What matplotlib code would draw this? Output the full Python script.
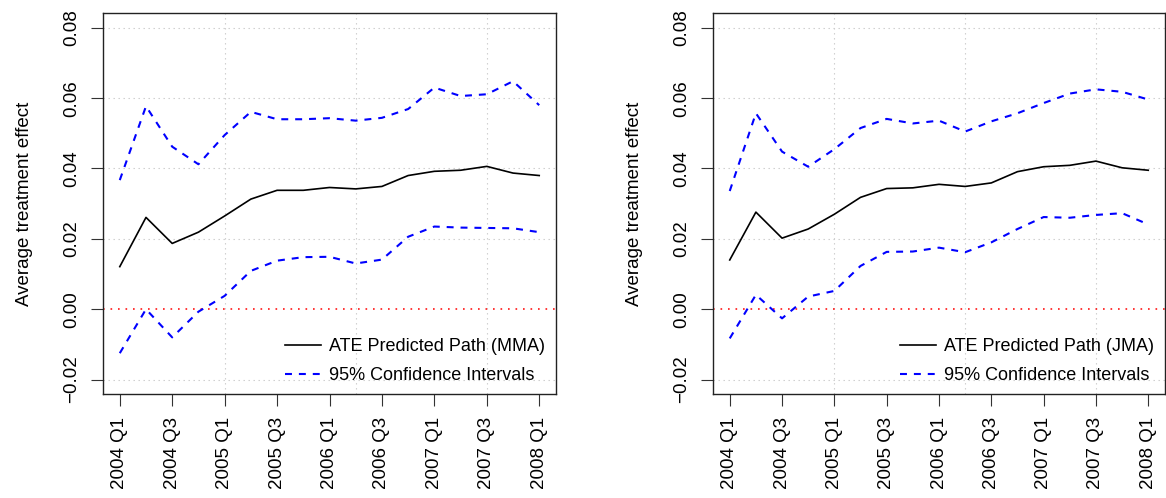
import numpy as np
import matplotlib
matplotlib.use("Agg")
import matplotlib.pyplot as plt

plt.rcParams['font.family'] = ['Liberation Sans', 'DejaVu Sans']
plt.rcParams['lines.scale_dashes'] = False

QUARTERS = ["2004 Q1", "2004 Q2", "2004 Q3", "2004 Q4",
            "2005 Q1", "2005 Q2", "2005 Q3", "2005 Q4",
            "2006 Q1", "2006 Q2", "2006 Q3", "2006 Q4",
            "2007 Q1", "2007 Q2", "2007 Q3", "2007 Q4",
            "2008 Q1"]

mma_ate = [0.0121, 0.0261, 0.0187, 0.0219, 0.0265, 0.0313, 0.0338, 0.0338, 0.0346,
           0.0342, 0.0349, 0.0380, 0.0392, 0.0395, 0.0406, 0.0387, 0.0380]
mma_upper = [0.0367, 0.0577, 0.0462, 0.0412, 0.0495, 0.0561, 0.0540, 0.0540, 0.0543,
             0.0536, 0.0544, 0.0569, 0.0630, 0.0606, 0.0611, 0.0648, 0.0580]
mma_lower = [-0.0125, 0.0000, -0.0080, -0.0007, 0.0038, 0.0109, 0.0138, 0.0148, 0.0149,
             0.0130, 0.0141, 0.0206, 0.0235, 0.0232, 0.0231, 0.0230, 0.0219]

jma_ate = [0.0140, 0.0276, 0.0202, 0.0228, 0.0270, 0.0318, 0.0343, 0.0345, 0.0355,
           0.0349, 0.0359, 0.0391, 0.0405, 0.0409, 0.0421, 0.0402, 0.0395]
jma_upper = [0.0336, 0.0557, 0.0448, 0.0405, 0.0455, 0.0515, 0.0541, 0.0528, 0.0536,
             0.0505, 0.0534, 0.0557, 0.0586, 0.0613, 0.0625, 0.0618, 0.0596]
jma_lower = [-0.0083, 0.0041, -0.0026, 0.0036, 0.0052, 0.0123, 0.0163, 0.0164, 0.0175,
             0.0162, 0.0190, 0.0228, 0.0262, 0.0260, 0.0268, 0.0273, 0.0241]

Y_TICKS = [-0.02, 0.00, 0.02, 0.04, 0.06, 0.08]
FS = 13.5


def draw_panel(ax, ate, upper, lower, model):
    x = np.arange(1, len(QUARTERS) + 1)
    ax.set_xlim(0.36, 17.64)
    ax.set_ylim(-0.0241, 0.0842)

    # grid like R's grid() at default pretty ticks
    for gx in [5, 10, 15]:
        ax.axvline(gx, color='#cccccc', lw=0.8, dashes=(1, 2.6), zorder=0)
    for gy in Y_TICKS:
        if gy == 0:
            continue
        ax.axhline(gy, color='#cccccc', lw=0.8, dashes=(1, 2.6), zorder=0)

    ax.axhline(0, color='red', lw=1.1, dashes=(1.2, 4.2), zorder=1)

    ax.plot(x, ate, color='black', lw=1.2, label=f'ATE Predicted Path ({model})', zorder=3)
    ax.plot(x, upper, color='blue', lw=1.5, dashes=(5, 5), label='95% Confidence Intervals', zorder=2)
    ax.plot(x, lower, color='blue', lw=1.5, dashes=(5, 5), zorder=2)

    ax.set_xticks(x[::2])
    ax.set_xticklabels(QUARTERS[::2], rotation=90, fontsize=FS)
    ax.set_yticks(Y_TICKS)
    ax.set_yticklabels([f"{v:.2f}".replace('-', '\u2212') for v in Y_TICKS],
                       rotation=90, va='center', fontsize=FS)
    ax.tick_params(direction='out', length=8.5, width=0.8, pad=8, color='#333333')

    for s in ax.spines.values():
        s.set_linewidth(1.0)
        s.set_color('#222222')

    ax.set_ylabel('Average treatment effect', fontsize=FS, va='center')
    ax.yaxis.set_label_coords(-0.174, 0.5)

    ax.legend(loc='lower right', bbox_to_anchor=(0.976, 0.026), frameon=False,
              fontsize=13, borderpad=0, borderaxespad=0, handlelength=2.0,
              handletextpad=0.45, labelspacing=0.65)


fig = plt.figure(figsize=(11.66, 4.98), dpi=100)
ax1 = fig.add_axes([103 / 1166, 1 - 394 / 498, 453 / 1166, 381 / 498])
ax2 = fig.add_axes([713 / 1166, 1 - 394 / 498, 452 / 1166, 381 / 498])

draw_panel(ax1, mma_ate, mma_upper, mma_lower, 'MMA')
draw_panel(ax2, jma_ate, jma_upper, jma_lower, 'JMA')

fig.savefig('out.png', dpi=100)
